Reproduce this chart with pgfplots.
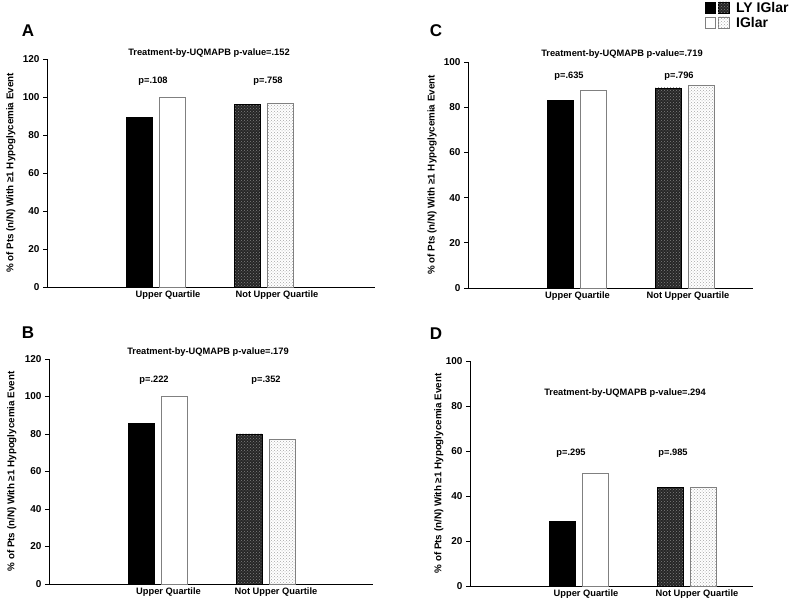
\documentclass[border=0pt]{standalone}
\usepackage{fontspec}
\setmainfont{Liberation Sans}
\usepackage{pgfplots}
\pgfplotsset{compat=1.18}
\usetikzlibrary{patterns}

\tikzset{ttl/.style={font=\bfseries\fontsize{9.3}{11}\selectfont}}
\pgfplotsset{
  panel/.style={
    scale only axis,
    axis x line*=bottom, axis y line*=left,
    axis line style={black, line width=0.9pt},
    xmin=0, ymin=0,
    ybar, bar width=26, bar shift=0pt,
    enlargelimits=false,
    clip=false,
    tick align=outside,
    major tick length=4pt,
    ytick style={black, line width=0.9pt},
    xtick style={draw=none},
    /pgf/number format/assume math mode=true,
    yticklabel style={font=\bfseries\fontsize{10}{12}\selectfont},
    xticklabel style={font=\bfseries\fontsize{9.3}{11}\selectfont, yshift=4pt},
    ylabel={\% of Pts (n/N) With ≥1 Hypoglycemia Event},
    ylabel style={font=\bfseries\fontsize{9.8}{11}\selectfont, anchor=center},
    xticklabels={Upper Quartile, Not Upper Quartile},
  },
  lyuq/.style={fill=black, draw=black, bar shift=0pt},
  iguq/.style={fill=white, draw=gray, line width=0.9pt, bar shift=0pt},
  lynot/.style={fill=black!85, draw=black, bar shift=0pt,
    postaction={pattern=crosshatch dots, pattern color=gray}},
  ignot/.style={fill=white, draw=gray, line width=0.9pt, bar shift=0pt,
    postaction={pattern=crosshatch dots, pattern color=gray!70}},
}

\begin{document}
\begin{tikzpicture}
\path[use as bounding box] (0,0) rectangle (798pt,599pt);

% panel A
\begin{axis}[panel, at={(47pt,312pt)}, anchor=south west,
  width=328pt, height=228pt, xmax=328, ymax=120,
  ytick={0,20,40,60,80,100,120}, xtick={121,230},
  ylabel style={at={(axis description cs:-0.11,0.5)}}]
\addplot[lyuq] coordinates {(92.5,89.6)};
\addplot[iguq] coordinates {(125.5,100)};
\addplot[lynot] coordinates {(200.5,96.2)};
\addplot[ignot] coordinates {(233,96.6)};
\node[ttl] at (axis cs:162,123.2) {Treatment-by-UQMAPB p-value=.152};
\node[ttl] at (axis cs:106,108.4) {p=.108};
\node[ttl] at (axis cs:221,108.4) {p=.758};
\end{axis}

% panel B
\begin{axis}[panel, at={(49pt,15pt)}, anchor=south west,
  width=324pt, height=225pt, xmax=324, ymax=120,
  ytick={0,20,40,60,80,100,120}, xtick={119.5,227},
  ylabel style={at={(axis description cs:-0.115,0.5)}}]
\addplot[lyuq] coordinates {(92.5,85.7)};
\addplot[iguq] coordinates {(125.5,100)};
\addplot[lynot] coordinates {(200.5,80.0)};
\addplot[ignot] coordinates {(233,77.0)};
\node[ttl] at (axis cs:159,123.7) {Treatment-by-UQMAPB p-value=.179};
\node[ttl] at (axis cs:105,108.8) {p=.222};
\node[ttl] at (axis cs:217,108.8) {p=.352};
\end{axis}

% panel C
\begin{axis}[panel, at={(468pt,311pt)}, anchor=south west,
  width=285pt, height=226pt, xmax=285, ymax=100,
  ytick={0,20,40,60,80,100}, xtick={109.5,220},
  ylabel style={at={(axis description cs:-0.126,0.5)}}]
\addplot[lyuq] coordinates {(92.5,83.0)};
\addplot[iguq] coordinates {(125.5,87.5)};
\addplot[lynot] coordinates {(200.5,88.5)};
\addplot[ignot] coordinates {(233,89.4)};
\node[ttl] at (axis cs:154,103.5) {Treatment-by-UQMAPB p-value=.719};
\node[ttl] at (axis cs:101,93.8) {p=.635};
\node[ttl] at (axis cs:211,93.8) {p=.796};
\end{axis}

% panel D
\begin{axis}[panel, at={(470pt,13pt)}, anchor=south west,
  width=283pt, height=225pt, xmax=283, ymax=100,
  ytick={0,20,40,60,80,100}, xtick={116,227},
  ylabel style={at={(axis description cs:-0.11,0.5)}}]
\addplot[lyuq] coordinates {(92.5,28.6)};
\addplot[iguq] coordinates {(125.5,50.0)};
\addplot[lynot] coordinates {(200.5,43.8)};
\addplot[ignot] coordinates {(233,43.8)};
\node[ttl] at (axis cs:155,85.8) {Treatment-by-UQMAPB p-value=.294};
\node[ttl] at (axis cs:101,59.1) {p=.295};
\node[ttl] at (axis cs:203,59.1) {p=.985};
\end{axis}

% panel letters
\node[font=\bfseries\fontsize{17}{20}\selectfont] at (28pt,568pt) {A};
\node[font=\bfseries\fontsize{17}{20}\selectfont] at (28pt,266pt) {B};
\node[font=\bfseries\fontsize{17}{20}\selectfont] at (436pt,568pt) {C};
\node[font=\bfseries\fontsize{17}{20}\selectfont] at (436pt,265pt) {D};

% legend
\filldraw[black] (705pt,586pt) rectangle (715pt,597pt);
\filldraw[fill=black!85, draw=black, postaction={pattern=crosshatch dots, pattern color=gray}] (718pt,586pt) rectangle (729pt,597pt);
\draw[gray, line width=0.9pt, fill=white] (705pt,571pt) rectangle (715pt,582pt);
\draw[gray, line width=0.9pt, fill=white, postaction={pattern=crosshatch dots, pattern color=gray!70}] (718pt,571pt) rectangle (729pt,582pt);
\node[anchor=west, inner sep=0pt, font=\bfseries\fontsize{14}{16}\selectfont] at (736pt,591pt) {LY IGlar};
\node[anchor=west, inner sep=0pt, font=\bfseries\fontsize{14}{16}\selectfont] at (736pt,576pt) {IGlar};
\end{tikzpicture}
\end{document}
